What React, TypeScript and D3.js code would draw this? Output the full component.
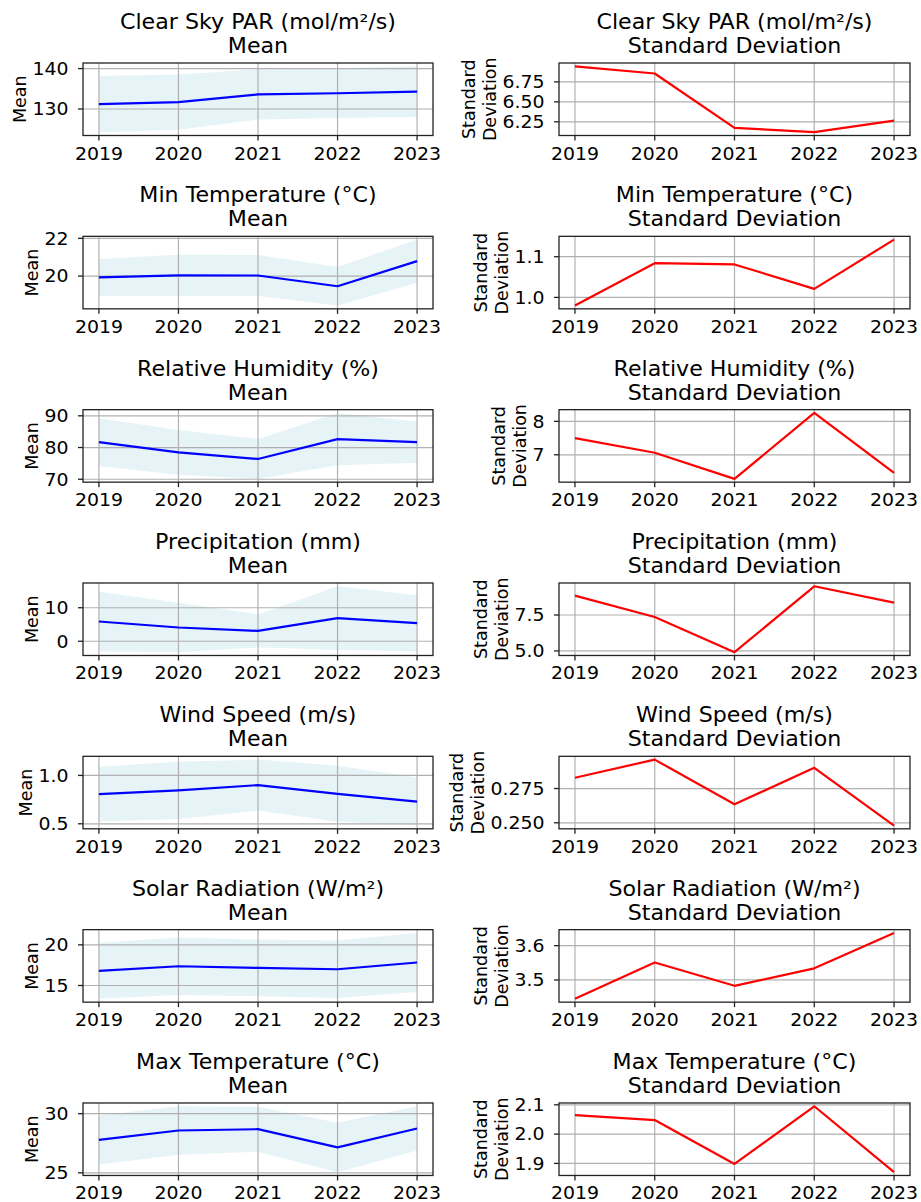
import React from 'react';
import * as d3 from 'd3';

const years = [2019, 2020, 2021, 2022, 2023];
const yearLabels = ['2019', '2020', '2021', '2022', '2023'];

const variables = [
  'Clear Sky PAR (mol/m²/s)',
  'Min Temperature (°C)',
  'Relative Humidity (%)',
  'Precipitation (mm)',
  'Wind Speed (m/s)',
  'Solar Radiation (W/m²)',
  'Max Temperature (°C)',
];

const parMean = [131.2, 131.7, 133.6, 133.9, 134.3];
const parStd = [6.945, 6.855, 6.175, 6.12, 6.265];
const minTMean = [19.93, 20.04, 20.03, 19.46, 20.79];
const minTStd = [0.98, 1.084, 1.081, 1.021, 1.142];
const rhMean = [81.7, 78.5, 76.4, 82.65, 81.7];
const rhStd = [7.5, 7.06, 6.28, 8.25, 6.46];
const precMean = [5.9, 4.1, 3.1, 6.9, 5.4];
const precStd = [8.85, 7.36, 4.91, 9.5, 8.36];
const windMean = [0.807, 0.846, 0.9, 0.81, 0.73];
const windStd = [0.2829, 0.2961, 0.2635, 0.2901, 0.248];
const solarMean = [16.8, 17.37, 17.17, 17.0, 17.83];
const solarStd = [3.445, 3.551, 3.483, 3.534, 3.637];
const maxTMean = [27.78, 28.58, 28.69, 27.15, 28.75];
const maxTStd = [2.065, 2.048, 1.898, 2.095, 1.87];

const meanSeries = [parMean, minTMean, rhMean, precMean, windMean, solarMean, maxTMean];
const stdSeries = [parStd, minTStd, rhStd, precStd, windStd, solarStd, maxTStd];

const meanTicks = [
  ['130', '140'],
  ['20', '22'],
  ['70', '80', '90'],
  ['0', '10'],
  ['0.5', '1.0'],
  ['15', '20'],
  ['25', '30'],
];
const stdTicks = [
  ['6.25', '6.50', '6.75'],
  ['1.0', '1.1'],
  ['7', '8'],
  ['5.0', '7.5'],
  ['0.250', '0.275'],
  ['3.5', '3.6'],
  ['1.9', '2.0', '2.1'],
];

const FONT = "'DejaVu Sans', sans-serif";
const TICK_FS = 17.5;
const TITLE_FS = 20.5;
const LABEL_FS = 17.5;
const STRETCH = 1.08;

const COLS = [
  { x0: 83, x1: 433 },
  { x0: 559, x1: 910 },
];
const ROW0 = 63;
const ROW_STEP = 173.33;
const AX_H = 72.5;

function textW(s: string, fs: number) {
  let w = 0;
  for (const c of s) w += c === '.' ? 0.318 : c === '-' ? 0.361 : 0.636;
  return w * fs * STRETCH;
}

function SText({
  x,
  y,
  fs,
  anchor,
  dy,
  children,
}: {
  x: number;
  y: number;
  fs: number;
  anchor: 'start' | 'middle' | 'end';
  dy?: string;
  children: React.ReactNode;
}) {
  return (
    <text
      transform={`translate(${x},${y}) scale(${STRETCH},1)`}
      dy={dy}
      fontSize={fs}
      textAnchor={anchor}
      fontFamily={FONT}
      fill="#000"
    >
      {children}
    </text>
  );
}

type PanelProps = {
  row: number;
  col: number;
  title: string;
  sub: string;
  mean: number[];
  std: number[];
  ticks: string[];
};

function Panel({ row, col, title, sub, mean, std, ticks }: PanelProps) {
  const { x0, x1 } = COLS[col];
  const top = ROW0 + row * ROW_STEP;
  const bottom = top + AX_H;
  const isMean = col === 0;
  const x = d3.scaleLinear().domain([2018.8, 2023.2]).range([x0, x1]);
  let lo: number, hi: number;
  if (isMean) {
    lo = d3.min(mean.map((m, i) => m - std[i])) as number;
    hi = d3.max(mean.map((m, i) => m + std[i])) as number;
  } else {
    lo = d3.min(std) as number;
    hi = d3.max(std) as number;
  }
  const pad = (hi - lo) * 0.05;
  const y = d3.scaleLinear().domain([lo - pad, hi + pad]).range([bottom, top]);

  const area = d3
    .area<number>()
    .x((_, i) => x(years[i]))
    .y0((m, i) => y(m - std[i]))
    .y1((m, i) => y(m + std[i]));
  const line = d3
    .line<number>()
    .x((_, i) => x(years[i]))
    .y((v) => y(v));

  const maxTickW = d3.max(ticks.map((t) => textW(t, TICK_FS))) as number;
  const labelX = x0 - 14.5 - maxTickW - 6;
  const cy = (top + bottom) / 2;
  const cx = (x0 + x1) / 2;

  return (
    <g>
      <SText x={cx} y={top - 34} fs={TITLE_FS} anchor="middle">
        {title}
      </SText>
      <SText x={cx} y={top - 10} fs={TITLE_FS} anchor="middle">
        {sub}
      </SText>
      {isMean && <path d={area(mean) || ''} fill="#add8e6" fillOpacity={0.3} stroke="none" />}
      {years.map((yr) => (
        <line key={'gx' + yr} x1={x(yr)} x2={x(yr)} y1={top} y2={bottom} stroke="#b0b0b0" strokeWidth={1.2} />
      ))}
      {ticks.map((t) => (
        <line key={'gy' + t} x1={x0} x2={x1} y1={y(+t)} y2={y(+t)} stroke="#b0b0b0" strokeWidth={1.2} />
      ))}
      <path
        d={line(isMean ? mean : std) || ''}
        fill="none"
        stroke={isMean ? '#0000ff' : '#ff0000'}
        strokeWidth={2.2}
        strokeLinejoin="round"
      />
      <rect x={x0} y={top} width={x1 - x0} height={AX_H} fill="none" stroke="#222" strokeWidth={1.3} />
      {years.map((yr, i) => (
        <g key={'tx' + yr}>
          <line x1={x(yr)} x2={x(yr)} y1={bottom} y2={bottom + 5} stroke="#222" strokeWidth={1.3} />
          <SText x={x(yr)} y={bottom + 24} fs={TICK_FS} anchor="middle">
            {yearLabels[i]}
          </SText>
        </g>
      ))}
      {ticks.map((t) => (
        <g key={'ty' + t}>
          <line x1={x0 - 5} x2={x0} y1={y(+t)} y2={y(+t)} stroke="#222" strokeWidth={1.3} />
          <SText x={x0 - 14.5} y={y(+t)} dy="0.36em" fs={TICK_FS} anchor="end">
            {t}
          </SText>
        </g>
      ))}
      {isMean ? (
        <text
          transform={`translate(${labelX},${cy}) rotate(-90)`}
          fontSize={LABEL_FS}
          textAnchor="middle"
          fontFamily={FONT}
          fill="#000"
        >
          Mean
        </text>
      ) : (
        <g>
          <text
            transform={`translate(${labelX - 21},${cy}) rotate(-90)`}
            fontSize={LABEL_FS}
            textAnchor="middle"
            fontFamily={FONT}
            fill="#000"
          >
            Standard
          </text>
          <text
            transform={`translate(${labelX},${cy}) rotate(-90)`}
            fontSize={LABEL_FS}
            textAnchor="middle"
            fontFamily={FONT}
            fill="#000"
          >
            Deviation
          </text>
        </g>
      )}
    </g>
  );
}

export default function App() {
  return (
    <svg
      width={921}
      height={1202}
      viewBox="0 0 921 1202"
      style={{ position: 'absolute', left: 0, top: 0, background: '#fff' }}
    >
      <rect x={0} y={0} width={921} height={1202} fill="#fff" />
      {variables.map((v, r) => (
        <g key={v}>
          <Panel row={r} col={0} title={v} sub="Mean" mean={meanSeries[r]} std={stdSeries[r]} ticks={meanTicks[r]} />
          <Panel
            row={r}
            col={1}
            title={v}
            sub="Standard Deviation"
            mean={meanSeries[r]}
            std={stdSeries[r]}
            ticks={stdTicks[r]}
          />
        </g>
      ))}
    </svg>
  );
}
